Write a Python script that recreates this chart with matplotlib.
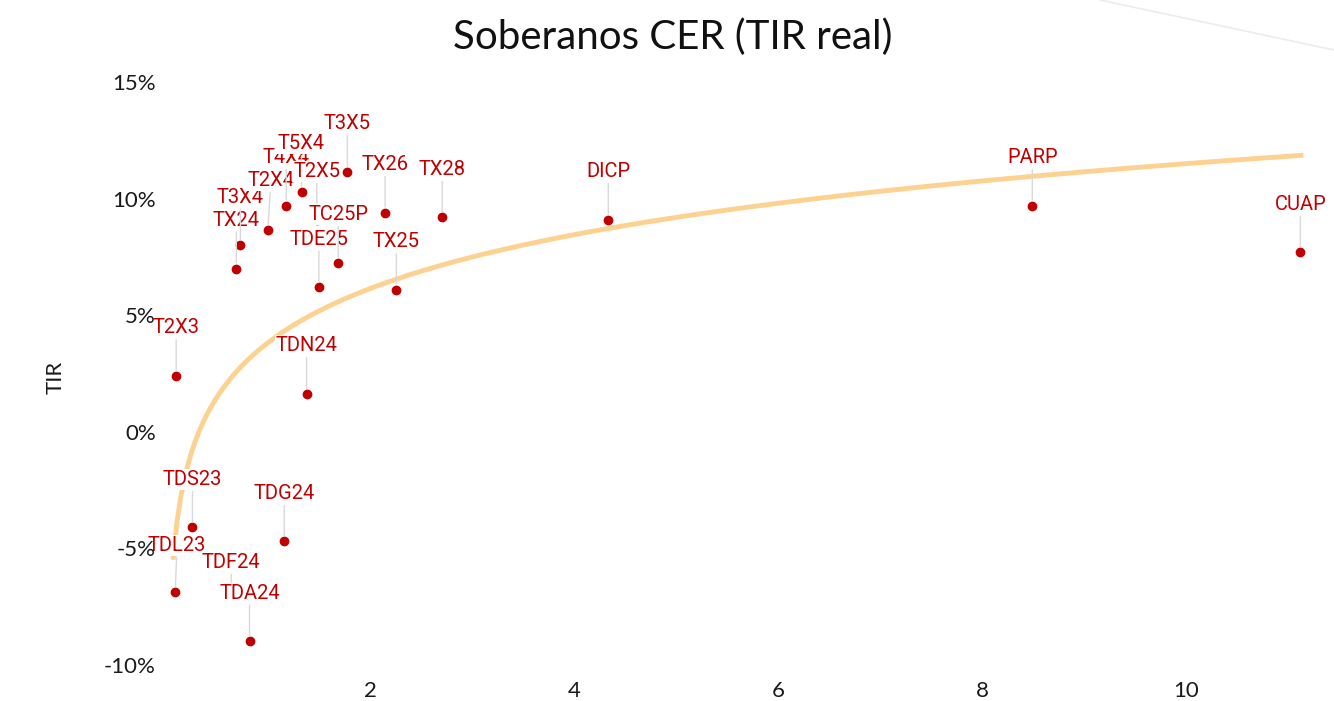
import numpy as np
import matplotlib
matplotlib.use('Agg')
import matplotlib.pyplot as plt
from matplotlib.ticker import FuncFormatter

# Bonos CER: duration (x) vs TIR real (%)
names = ['T2X3', 'TDL23', 'TDS23', 'TDF24', 'TDA24', 'TDG24', 'TDN24',
         'TX24', 'T3X4', 'T2X4', 'T4X4', 'T5X4', 'T2X5', 'T3X5',
         'TDE25', 'TC25P', 'TX25', 'TX26', 'TX28', 'DICP', 'PARP', 'CUAP']
duration = [0.09, 0.08, 0.25, 0.63, 0.81, 1.15, 1.37,
            0.68, 0.72, 0.99, 1.17, 1.32, 1.47, 1.77,
            1.49, 1.68, 2.25, 2.14, 2.70, 4.33, 8.49, 11.12]
tir = [2.4, -6.87, -4.1, -7.1, -8.97, -4.7, 1.63,
       7.0, 8.0, 8.67, 9.7, 10.3, 9.1, 11.15,
       6.2, 7.25, 6.1, 9.4, 9.2, 9.1, 9.7, 7.7]

# tendencia logaritmica: y = a + b*ln(x)
trend_a = 3.855
trend_b = 3.32
trend_x = [0.06, 11.15]

rojo = '#c00000'

fig = plt.figure(figsize=(13.34, 7.01), dpi=100)
ax = fig.add_axes([167 / 1334, (701 - 680) / 701, (1334 - 167) / 1334, (680 - 75) / 701])

xs = np.linspace(trend_x[0], trend_x[1], 300)
ax.plot(xs, trend_a + trend_b * np.log(xs), color='#fdd291', lw=3.5, zorder=1,
        solid_capstyle='butt')

ax.scatter(duration, tir, s=36, color=rojo, zorder=3, clip_on=False)

# desplazamientos de etiqueta (px) donde no van centradas
offsets = {'T2X4': (3, 49), 'TDF24': (0, 35), 'TDL23': (2, 47)}
for n, x, y in zip(names, duration, tir):
    dx, dy = offsets.get(n, (0, 48))
    ax.annotate(n, (x, y), xytext=(dx * 0.72, dy * 0.72), textcoords='offset points',
                ha='center', va='center', color=rojo, fontsize=14.5, family='Roboto',
                bbox=dict(boxstyle='square,pad=0.05', fc='white', ec='none'),
                arrowprops=dict(arrowstyle='-', color='#d9d9d9', lw=1,
                                shrinkA=1, shrinkB=4),
                zorder=4, annotation_clip=False)

ax.set_xlim(0, 11.45)
ax.set_ylim(-10.64, 15.3)
ax.set_xticks([2, 4, 6, 8, 10])
ax.set_yticks([-10, -5, 0, 5, 10, 15])
ax.yaxis.set_major_formatter(FuncFormatter(lambda v, p: f'{v:.0f}%'))
ax.yaxis.set_zorder(5)
for s in ax.spines.values():
    s.set_visible(False)
ax.tick_params(length=0, labelsize=16, colors='#1a1a1a')
ax.tick_params(axis='y', pad=8)
ax.tick_params(axis='x', pad=1)
for lab in ax.get_xticklabels() + ax.get_yticklabels():
    lab.set_family('Lato')

ax.set_ylabel('TIR', fontsize=16, family='Lato', color='#1a1a1a', labelpad=28)
fig.suptitle('Soberanos CER (TIR real)', x=673 / 1334, y=1 - 37 / 701, va='center',
             fontsize=29, family='Lato', color='#111111')

# sombra tenue del fondo arriba a la derecha
fig.add_artist(plt.Line2D([1100 / 1334, 1.0], [1.0, 1 - 50 / 701], transform=fig.transFigure,
                          color='#ececec', lw=1.2, zorder=0))

fig.savefig('out.png', dpi=100)
plt.close(fig)
